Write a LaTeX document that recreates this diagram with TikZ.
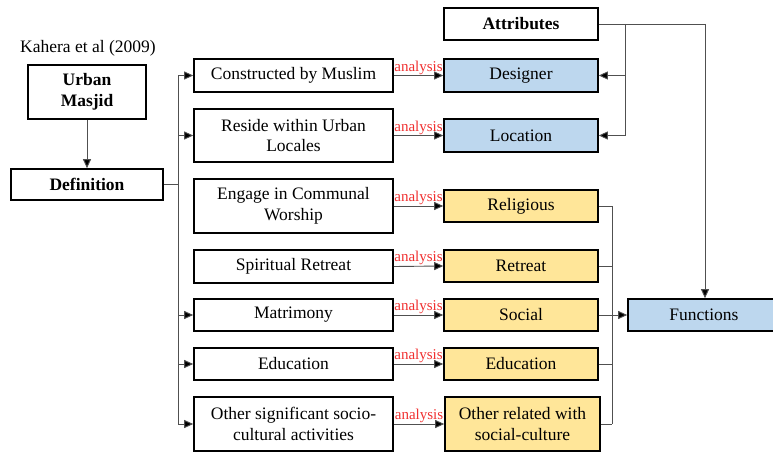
\documentclass[tikz,border=0pt]{standalone}
\usepackage{fontspec}
\setmainfont{Liberation Serif}
\usetikzlibrary{arrows.meta}
\definecolor{attrblue}{HTML}{BDD7EE}
\definecolor{funcyellow}{HTML}{FFE699}
\definecolor{linegray}{HTML}{505050}
\definecolor{anred}{HTML}{F03030}
\newcommand{\mainfs}{\fontsize{17.5}{20.5}\selectfont}
\newcommand{\anfs}{\fontsize{15}{16}\selectfont}
\begin{document}
\begin{tikzpicture}[x=1pt,y=-1pt,
  box/.style={draw=black, line width=1.6pt, inner sep=0pt, align=center, font=\mainfs},
  colA/.style={box, minimum width=199pt},
  colB/.style={box, minimum width=154pt},
  bluebox/.style={colB, fill=attrblue},
  yellowbox/.style={colB, fill=funcyellow},
  conn/.style={draw=linegray, line width=0.9pt},
  arr/.style={conn, -{Triangle[length=9pt,width=8pt,fill=black]}},
  anl/.style={above, inner sep=0.8pt, text=anred, font=\anfs}
]
\useasboundingbox (0,0) rectangle (773,452);

% left
\node[font=\mainfs] (ref) at (88,48) {Kahera et al (2009)};
\node[box, minimum width=118pt, minimum height=54pt, font=\mainfs\bfseries] (um) at (87,92) {Urban\\Masjid};
\node[box, minimum width=152pt, minimum height=31pt, font=\mainfs\bfseries] (def) at (87,184.5) {Definition};

% column A
\node[colA, minimum height=33pt] (c1) at (293.5,75.5) {Constructed by Muslim};
\node[colA, minimum height=53pt] (c2) at (293.5,135.5) {Reside within Urban\\Locales};
\node[colA, minimum height=54pt] (c3) at (293.5,206) {Engage in Communal\\Worship};
\node[colA, minimum height=33pt] (c4) at (293.5,266.5) {Spiritual Retreat};
\node[colA, minimum height=32pt] (c5) at (293.5,315) {Matrimony};
\node[colA, minimum height=32pt] (c6) at (293.5,364) {Education};
\node[colA, minimum height=54pt] (c7) at (293.5,424) {Other significant socio-\\cultural activities};

% column B
\node[colB, minimum height=32pt, font=\mainfs\bfseries] (attr) at (521,24) {Attributes};
\node[bluebox, minimum height=33pt] (d1) at (521,75.5) {Designer};
\node[bluebox, minimum height=33pt] (d2) at (521,135.5) {Location};
\node[yellowbox, minimum height=32pt] (f1) at (521,206) {Religious};
\node[yellowbox, minimum height=32pt] (f2) at (521,266) {Retreat};
\node[yellowbox, minimum height=32pt] (f3) at (521,315) {Social};
\node[yellowbox, minimum height=32pt] (f4) at (521,364) {Education};
\node[yellowbox, minimum width=155pt, minimum height=54pt] (f5) at (522.5,424) {Other related with\\social-culture};

% functions
\node[box, fill=attrblue, minimum width=152pt, minimum height=32pt] (fn) at (704,315) {Functions};

% coordinates
\coordinate (trunk) at (178,0);
\coordinate (abus) at (625,0);
\coordinate (fdrop) at (705,0);
\coordinate (fbus) at (612,0);

% urban masjid -> definition
\draw[arr] (um.south) -- (def.north);

% definition trunk
\draw[conn] (def.east) -- (trunk |- def.east);
\draw[conn] (trunk |- c1.west) -- (trunk |- c7.west);
\foreach \n in {c1,c2,c5,c6,c7}
  \draw[arr] (trunk |- \n.west) -- (\n.west);

% analysis arrows
\draw[arr] (c1.east) -- node[anl] {analysis} (d1.west);
\draw[arr] (c2.east) -- node[anl] {analysis} (d2.west);
\draw[arr] (c3.east) -- node[anl] {analysis} (f1.west);
\draw[arr] (c4.east) -- node[anl] {analysis} (f2.west);
\draw[arr] (c5.east) -- node[anl] {analysis} (f3.west);
\draw[arr] (c6.east) -- node[anl] {analysis} (f4.west);
\draw[arr] (c7.east) -- node[anl] {analysis} (f5.west);

% attributes
\draw[conn] (attr.east) -- (fdrop |- attr.east);
\draw[arr] (fdrop |- attr.east) -- (fn.north -| fdrop);
\draw[conn] (abus |- attr.east) -- (abus |- d2.east);
\draw[arr] (abus |- d1.east) -- (d1.east);
\draw[arr] (abus |- d2.east) -- (d2.east);

% functions bus
\draw[conn] (fbus |- f1.east) -- (fbus |- f5.east);
\foreach \n in {f1,f2,f4,f5}
  \draw[conn] (\n.east) -- (fbus |- \n.east);
\draw[arr] (f3.east) -- (fn.west);
\end{tikzpicture}
\end{document}
